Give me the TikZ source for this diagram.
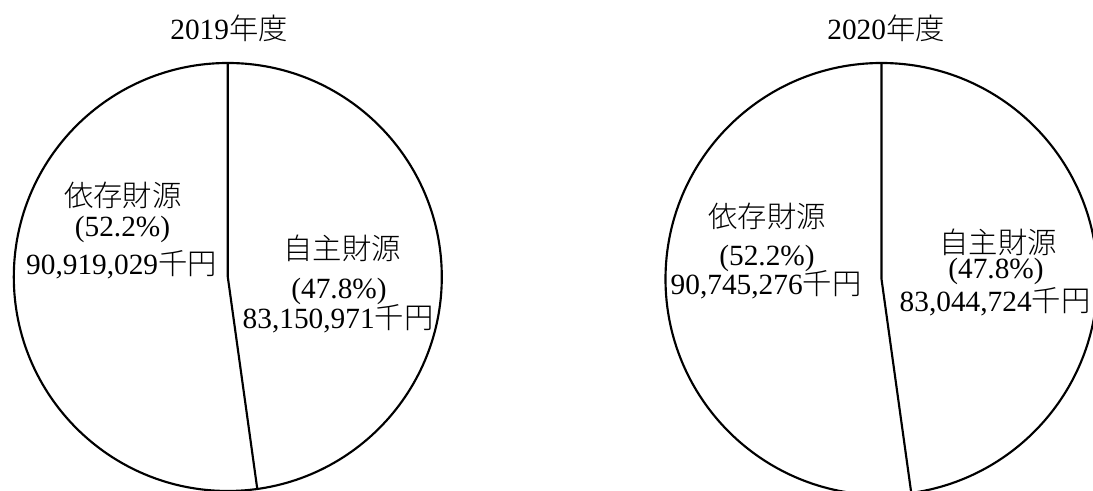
\documentclass[tikz,border=0pt]{standalone}
\usepackage{fontspec}
\usepackage{tikz}
\setmainfont{Liberation Serif}
\newfontfamily\cjk{Noto Sans CJK JP}[UprightFont=* Light]
\tikzstyle{pTitle} = [font=\fontsize{22}{26}\selectfont, inner sep=0pt]
\tikzstyle{pLabel} = [font=\fontsize{22}{26}\selectfont, inner sep=0pt]
\tikzstyle{pLine} = [line width=1.6pt, draw=black]

\begin{document}
\begin{tikzpicture}[x=0.75pt, y=0.75pt]
    \useasboundingbox (0,0) rectangle (1093,491);
    \clip (0,0) rectangle (1093,491);

    % 2019
    \coordinate (c19) at (227.8,214);
    \coordinate (top19) at ([shift={(90:214)}]c19);
    \coordinate (cut19) at ([shift={(-82.08:214)}]c19);
    \draw [pLine] (c19) circle (214);
    \draw [pLine] (top19) -- (c19) -- (cut19);
    \node (title19) [pTitle] at (229,463) {2019{\cjk 年度}};
    \node (dep19Name) [pLabel] at (123,296) {\cjk 依存財源};
    \node (dep19Share) [pLabel] at (122.5,262) {(52.2\%)};
    \node (dep19Amount) [pLabel] at (121.5,226) {90,919,029{\cjk 千円}};
    \node (own19Name) [pLabel] at (342,243) {\cjk 自主財源};
    \node (own19Share) [pLabel] at (339,200) {(47.8\%)};
    \node (own19Amount) [pLabel] at (338,172) {83,150,971{\cjk 千円}};

    % 2020
    \coordinate (c20) at (881.5,212);
    \coordinate (top20) at ([shift={(90:216)}]c20);
    \coordinate (cut20) at ([shift={(-82.08:216)}]c20);
    \draw [pLine] (c20) circle (216);
    \draw [pLine] (top20) -- (c20) -- (cut20);
    \node (title20) [pTitle] at (886,463) {2020{\cjk 年度}};
    \node (dep20Name) [pLabel] at (767,275) {\cjk 依存財源};
    \node (dep20Share) [pLabel] at (767,233) {(52.2\%)};
    \node (dep20Amount) [pLabel] at (766,206) {90,745,276{\cjk 千円}};
    \node (own20Name) [pLabel] at (998,249) {\cjk 自主財源};
    \node (own20Share) [pLabel] at (996,220) {(47.8\%)};
    \node (own20Amount) [pLabel] at (995,189) {83,044,724{\cjk 千円}};
\end{tikzpicture}
\end{document}
